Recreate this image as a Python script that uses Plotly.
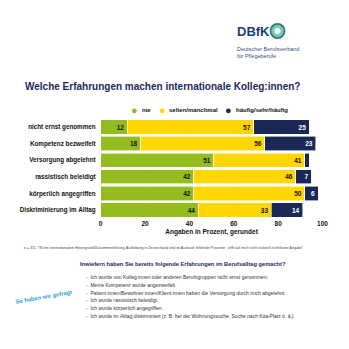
import plotly.graph_objects as go

categories = ["nicht ernst genommen", "Kompetenz bezweifelt", "Versorgung abgelehnt",
              "rassistisch beleidigt", "körperlich angegriffen", "Diskriminierung im Alltag"]
nie = [12, 18, 51, 42, 42, 44]
selten = [57, 56, 41, 46, 50, 33]
haeufig = [25, 23, 2, 7, 6, 14]
series_names = ["nie", "selten/manchmal", "häufig/sehr/häufig"]
series_values = [nie, selten, haeufig]
colors = ["#95bc1f", "#ffd600", "#1a2857"]
text_colors = ["#111111", "#111111", "#ffffff"]
x_ticks = [0, 20, 40, 60, 80, 100]

questions = [
    "Ich wurde von Kolleg:innen oder anderen Berufsgruppen nicht ernst genommen.",
    "Meine Kompetenz wurde angezweifelt.",
    "Patient:innen/Bewohner:innen/Klient:innen haben die Versorgung durch mich abgelehnt.",
    "Ich wurde rassistisch beleidigt.",
    "Ich wurde körperlich angegriffen.",
    "Ich wurde im Alltag diskriminiert (z. B. bei der Wohnungssuche, Suche nach Kita-Platz ö. ä.).",
]

W = H = 349
FONT = "Liberation Sans, Arial, sans-serif"
NAVY = "#1b2a5c"


def px(x):
    return x / W


def py(y):
    return 1 - y / H


fig = go.Figure()
for name, vals, col, tc in zip(series_names, series_values, colors, text_colors):
    fig.add_trace(go.Bar(
        y=categories, x=vals, name=name, orientation="h",
        marker=dict(color=col, line=dict(color="#ffffff", width=0.6)),
        text=[str(v) if v >= 5 else "" for v in vals],
        textposition="inside", insidetextanchor="end",
        textfont=dict(family=FONT, size=6.5, color=tc, weight="bold"),
        showlegend=False, hoverinfo="skip",
    ))

fig.update_layout(
    width=W, height=H, margin=dict(l=0, r=0, t=0, b=0),
    paper_bgcolor="white", plot_bgcolor="white",
    barmode="stack", bargap=0.14,
    font=dict(family=FONT, color="#111111"),
    xaxis=dict(domain=[px(101), px(328)], range=[0, 100], tickvals=x_ticks,
               showgrid=True, gridcolor="#f0f0f0", gridwidth=0.5, zeroline=False,
               showline=False, ticks="",
               tickfont=dict(size=6.5, weight="bold", color="#111111"),
               title=dict(text="Angaben in Prozent, gerundet", standoff=3,
                          font=dict(size=6.5, weight="bold", color="#111111"))),
    yaxis=dict(domain=[py(218.3), py(118.7)], autorange="reversed",
               showgrid=False, showline=False, ticks="", ticklabelstandoff=4,
               tickfont=dict(size=6.3, weight="bold", color="#111111")),
)

ann = []
# title
ann.append(dict(text="Welche Erfahrungen machen internationale Kolleg:innen?",
                x=px(21), y=py(87), xref="paper", yref="paper", xanchor="left", yanchor="middle",
                showarrow=False, font=dict(size=10, weight="bold", color=NAVY)))
# legend
leg_x = [136, 164, 232]
for lx, name, col in zip(leg_x, series_names, colors):
    ann.append(dict(text="●", x=px(lx), y=py(110), xref="paper", yref="paper",
                    xanchor="center", yanchor="middle", showarrow=False,
                    font=dict(size=11, color=col)))
    ann.append(dict(text=name, x=px(lx + 5), y=py(110), xref="paper", yref="paper",
                    xanchor="left", yanchor="middle",
                    showarrow=False, font=dict(size=6, weight="bold", color="#111111")))
# logo text
ann.append(dict(text="DBfK", x=px(238), y=py(31), xref="paper", yref="paper",
                xanchor="left", yanchor="middle", showarrow=False,
                font=dict(size=13, weight="bold", color="#1f3d7a")))
ann.append(dict(text="Deutscher Berufsverband<br>für Pflegeberufe", x=px(238), y=py(52),
                xref="paper", yref="paper", xanchor="left", yanchor="middle", align="left",
                showarrow=False, font=dict(size=5.5, color="#3a4f80")))
# footnote
ann.append(dict(text="n = 311, TN mit internationalem Hintergrund/Zusammenführung Ausbildung in Deutschland und im Ausland; fehlende Prozente: „trifft auf mich nicht zu/weiß nicht/keine Angabe“",
                x=px(20), y=py(248), xref="paper", yref="paper", xanchor="left", yanchor="middle",
                showarrow=False, font=dict(size=3.6, color="#444444")))
# question block
ann.append(dict(text="Inwiefern haben Sie bereits folgende Erfahrungen im Berufsalltag gemacht?",
                x=px(78), y=py(264), xref="paper", yref="paper", xanchor="left", yanchor="middle",
                showarrow=False, font=dict(size=5.7, weight="bold", color=NAVY)))
for i, q in enumerate(questions):
    ann.append(dict(text="-  " + q, x=px(84), y=py(277 + i * 7.8), xref="paper", yref="paper",
                    xanchor="left", yanchor="middle", showarrow=False,
                    font=dict(size=5, color="#333333")))
ann.append(dict(text="So haben wir gefragt", x=px(42), y=py(297), xref="paper", yref="paper",
                xanchor="center", yanchor="middle", showarrow=False, textangle=-10,
                font=dict(size=5.8, weight="bold", color="#2aa3df")))
fig.update_layout(annotations=ann)

# logo rings
cx, cy = 282, 31
rings = [(8, "#1d6fb0"), (6.5, "#8cc63f"), (5, "#6fcbee"), (3, "#ffffff")]
for r, c in rings:
    fig.add_shape(type="circle", xref="paper", yref="paper",
                  x0=px(cx - r), x1=px(cx + r), y0=py(cy + r), y1=py(cy - r),
                  fillcolor=c, line=dict(width=0))

fig.write_html("out.html")
